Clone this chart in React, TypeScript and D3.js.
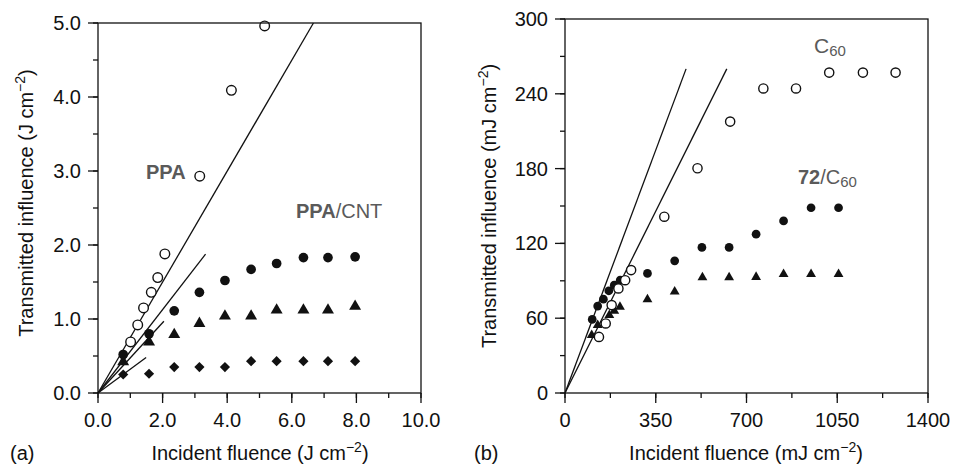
import React from "react";
import * as d3 from "d3";

// ---- Panel (a): PPA and PPA/CNT (J cm^-2) ----
const ppaX = [1.01, 1.23, 1.41, 1.65, 1.85, 2.07, 3.15, 4.13, 5.16];
const ppaY = [0.69, 0.92, 1.15, 1.36, 1.56, 1.88, 2.93, 4.09, 4.96];

const cntX = [0.78, 1.58, 2.36, 3.14, 3.93, 4.74, 5.53, 6.36, 7.12, 7.96];
const cntCircleY = [0.52, 0.8, 1.11, 1.36, 1.52, 1.67, 1.75, 1.83, 1.83, 1.84];
const cntTriangleY = [0.42, 0.69, 0.79, 0.94, 1.04, 1.04, 1.12, 1.12, 1.12, 1.17];
const cntDiamondY = [0.25, 0.26, 0.35, 0.35, 0.35, 0.43, 0.43, 0.43, 0.43, 0.43];

// fitted lines through the origin, given by their end points
const leftFitEndX = [6.67, 3.33, 2.04, 1.49];
const leftFitEndY = [5.0, 1.876, 0.97, 0.48];

const leftXTicks = [0, 2, 4, 6, 8, 10];
const leftXTickLabels = ["0.0", "2.0", "4.0", "6.0", "8.0", "10.0"];
const leftYTicks = [0, 1, 2, 3, 4, 5];
const leftYTickLabels = ["0.0", "1.0", "2.0", "3.0", "4.0", "5.0"];

// ---- Panel (b): C60 and 72/C60 (mJ cm^-2) ----
const c60X = [131, 157, 180, 206, 232, 255, 383, 511, 637, 765, 891, 1019, 1149, 1275];
const c60Y = [45, 55.8, 70.5, 83.9, 90.5, 98.6, 141.4, 180.3, 217.7, 244.3, 244.3, 257, 257, 257];

const dyadCircleX = [105, 126, 148, 169, 190, 213, 318, 423, 528, 633, 737, 843, 949, 1055];
const dyadCircleY = [59, 69.7, 75.3, 82, 86.5, 90.5, 95.9, 106, 116.8, 116.8, 127.4, 138, 148.6, 148.6];

const dyadTriangleX = [103, 126, 171, 190, 212, 318, 423, 530, 633, 737, 843, 949, 1055];
const dyadTriangleY = [46.4, 54.4, 62.4, 65.9, 69.1, 75, 81.2, 92.7, 92.7, 93, 95.4, 95.4, 95.4];

const rightFitEndX = [467, 624];
const rightFitEndY = [260, 260];

const rightXTicks = [0, 350, 700, 1050, 1400];
const rightXTickLabels = ["0", "350", "700", "1050", "1400"];
const rightYTicks = [0, 60, 120, 180, 240, 300];
const rightYTickLabels = ["0", "60", "120", "180", "240", "300"];

const FONT = "'Liberation Sans', Arial, Helvetica, sans-serif";
const INK = "#111";
const LABEL_GREY = "#5a5a5a";

type Scale = d3.ScaleLinear<number, number>;

function Frame({
  x,
  y,
  xTicks,
  xLabels,
  xMinorStep,
  yTicks,
  yLabels,
  yMinorStep,
}: {
  x: Scale;
  y: Scale;
  xTicks: number[];
  xLabels: string[];
  xMinorStep: number;
  yTicks: number[];
  yLabels: string[];
  yMinorStep: number;
}) {
  const [x0, x1] = x.range();
  const [y0, y1] = y.range();
  const [dx0, dx1] = x.domain();
  const [dy0, dy1] = y.domain();
  const xMinor = d3.range(dx0, dx1 + xMinorStep / 2, xMinorStep);
  const yMinor = d3.range(dy0, dy1 + yMinorStep / 2, yMinorStep);
  return (
    <g>
      <rect x={x0} y={y1} width={x1 - x0} height={y0 - y1} fill="none" stroke={INK} strokeWidth={1.3} />
      {xMinor.map((v) => (
        <line key={"xm" + v} x1={x(v)} x2={x(v)} y1={y0} y2={y0 + 5} stroke={INK} strokeWidth={1.3} />
      ))}
      {xTicks.map((v, i) => (
        <g key={"xt" + v}>
          <line x1={x(v)} x2={x(v)} y1={y0} y2={y0 + 10} stroke={INK} strokeWidth={1.3} />
          <text x={x(v)} y={y0 + 34} textAnchor="middle" fontSize={20} fill={INK}>
            {xLabels[i]}
          </text>
        </g>
      ))}
      {yMinor.map((v) => (
        <line key={"ym" + v} x1={x0 - 5} x2={x0} y1={y(v)} y2={y(v)} stroke={INK} strokeWidth={1.3} />
      ))}
      {yTicks.map((v, i) => (
        <g key={"yt" + v}>
          <line x1={x0 - 10} x2={x0} y1={y(v)} y2={y(v)} stroke={INK} strokeWidth={1.3} />
          <text x={x0 - 17} y={y(v) + 7} textAnchor="end" fontSize={20} fill={INK}>
            {yLabels[i]}
          </text>
        </g>
      ))}
    </g>
  );
}

function OpenCircles({ xs, ys, x, y, r }: { xs: number[]; ys: number[]; x: Scale; y: Scale; r: number }) {
  return (
    <g>
      {xs.map((v, i) => (
        <circle key={i} cx={x(v)} cy={y(ys[i])} r={r} fill="#fff" stroke={INK} strokeWidth={1.4} />
      ))}
    </g>
  );
}

function Symbols({
  xs,
  ys,
  x,
  y,
  type,
  size,
  rotate = 0,
}: {
  xs: number[];
  ys: number[];
  x: Scale;
  y: Scale;
  type: d3.SymbolType;
  size: number;
  rotate?: number;
}) {
  const path = d3.symbol().type(type).size(size)() as string;
  return (
    <g>
      {xs.map((v, i) => (
        <path
          key={i}
          d={path}
          transform={`translate(${x(v)},${y(ys[i])}) rotate(${rotate})`}
          fill={INK}
        />
      ))}
    </g>
  );
}

function FitLines({ ex, ey, x, y }: { ex: number[]; ey: number[]; x: Scale; y: Scale }) {
  return (
    <g>
      {ex.map((v, i) => (
        <line key={i} x1={x(0)} y1={y(0)} x2={x(v)} y2={y(ey[i])} stroke={INK} strokeWidth={1.3} />
      ))}
    </g>
  );
}

export default function App() {
  const lx = d3.scaleLinear().domain([0, 10]).range([98, 421]);
  const ly = d3.scaleLinear().domain([0, 5]).range([393, 23]);
  const rx = d3.scaleLinear().domain([0, 1400]).range([565, 928]);
  const ry = d3.scaleLinear().domain([0, 300]).range([393, 19]);

  return (
    <svg
      width={953}
      height={467}
      viewBox="0 0 953 467"
      style={{ position: "absolute", left: 0, top: 0, display: "block", background: "#fff" }}
      fontFamily={FONT}
    >
      <rect width={953} height={467} fill="#fff" />

      {/* panel (a) */}
      <FitLines ex={leftFitEndX} ey={leftFitEndY} x={lx} y={ly} />
      <Symbols xs={cntX} ys={cntDiamondY} x={lx} y={ly} type={d3.symbolSquare} size={52} rotate={45} />
      <Symbols xs={cntX} ys={cntTriangleY} x={lx} y={ly} type={d3.symbolTriangle} size={62} />
      <Symbols xs={cntX} ys={cntCircleY} x={lx} y={ly} type={d3.symbolCircle} size={74} />
      <OpenCircles xs={ppaX} ys={ppaY} x={lx} y={ly} r={4.8} />
      <Frame
        x={lx}
        y={ly}
        xTicks={leftXTicks}
        xLabels={leftXTickLabels}
        xMinorStep={1}
        yTicks={leftYTicks}
        yLabels={leftYTickLabels}
        yMinorStep={0.5}
      />
      <text x={146} y={179} fontSize={20} fontWeight="bold" fill={LABEL_GREY}>
        PPA
      </text>
      <text x={296} y={218} fontSize={20} fill={LABEL_GREY}>
        <tspan fontWeight="bold">PPA</tspan>
        <tspan>/CNT</tspan>
      </text>
      <text x={260} y={460} textAnchor="middle" fontSize={20} fill={INK}>
        Incident fluence (J cm
        <tspan fontSize={14} dy={-8}>
          −2
        </tspan>
        <tspan dy={8}>)</tspan>
      </text>
      <text transform="translate(33,203) rotate(-90)" textAnchor="middle" fontSize={20} fill={INK}>
        Transmitted influence (J cm
        <tspan fontSize={14} dy={-8}>
          −2
        </tspan>
        <tspan dy={8}>)</tspan>
      </text>
      <text x={10} y={460} fontSize={20} fill={INK}>
        (a)
      </text>

      {/* panel (b) */}
      <FitLines ex={rightFitEndX} ey={rightFitEndY} x={rx} y={ry} />
      <Symbols xs={dyadTriangleX} ys={dyadTriangleY} x={rx} y={ry} type={d3.symbolTriangle} size={42} />
      <Symbols xs={dyadCircleX} ys={dyadCircleY} x={rx} y={ry} type={d3.symbolCircle} size={60} />
      <OpenCircles xs={c60X} ys={c60Y} x={rx} y={ry} r={4.6} />
      <Frame
        x={rx}
        y={ry}
        xTicks={rightXTicks}
        xLabels={rightXTickLabels}
        xMinorStep={175}
        yTicks={rightYTicks}
        yLabels={rightYTickLabels}
        yMinorStep={30}
      />
      <text x={814} y={53} fontSize={21} fill={LABEL_GREY}>
        C
        <tspan fontSize={15} dy={3}>
          60
        </tspan>
      </text>
      <text x={798} y={184} fontSize={20} fill={LABEL_GREY}>
        <tspan fontWeight="bold">72</tspan>
        <tspan>/C</tspan>
        <tspan fontSize={15} dy={3}>
          60
        </tspan>
      </text>
      <text x={746} y={460} textAnchor="middle" fontSize={20} fill={INK}>
        Incident fluence (mJ cm
        <tspan fontSize={14} dy={-8}>
          −2
        </tspan>
        <tspan dy={8}>)</tspan>
      </text>
      <text transform="translate(496,206) rotate(-90)" textAnchor="middle" fontSize={20} fill={INK}>
        Transmitted influence (mJ cm
        <tspan fontSize={14} dy={-8}>
          −2
        </tspan>
        <tspan dy={8}>)</tspan>
      </text>
      <text x={474} y={460} fontSize={20} fill={INK}>
        (b)
      </text>
    </svg>
  );
}
